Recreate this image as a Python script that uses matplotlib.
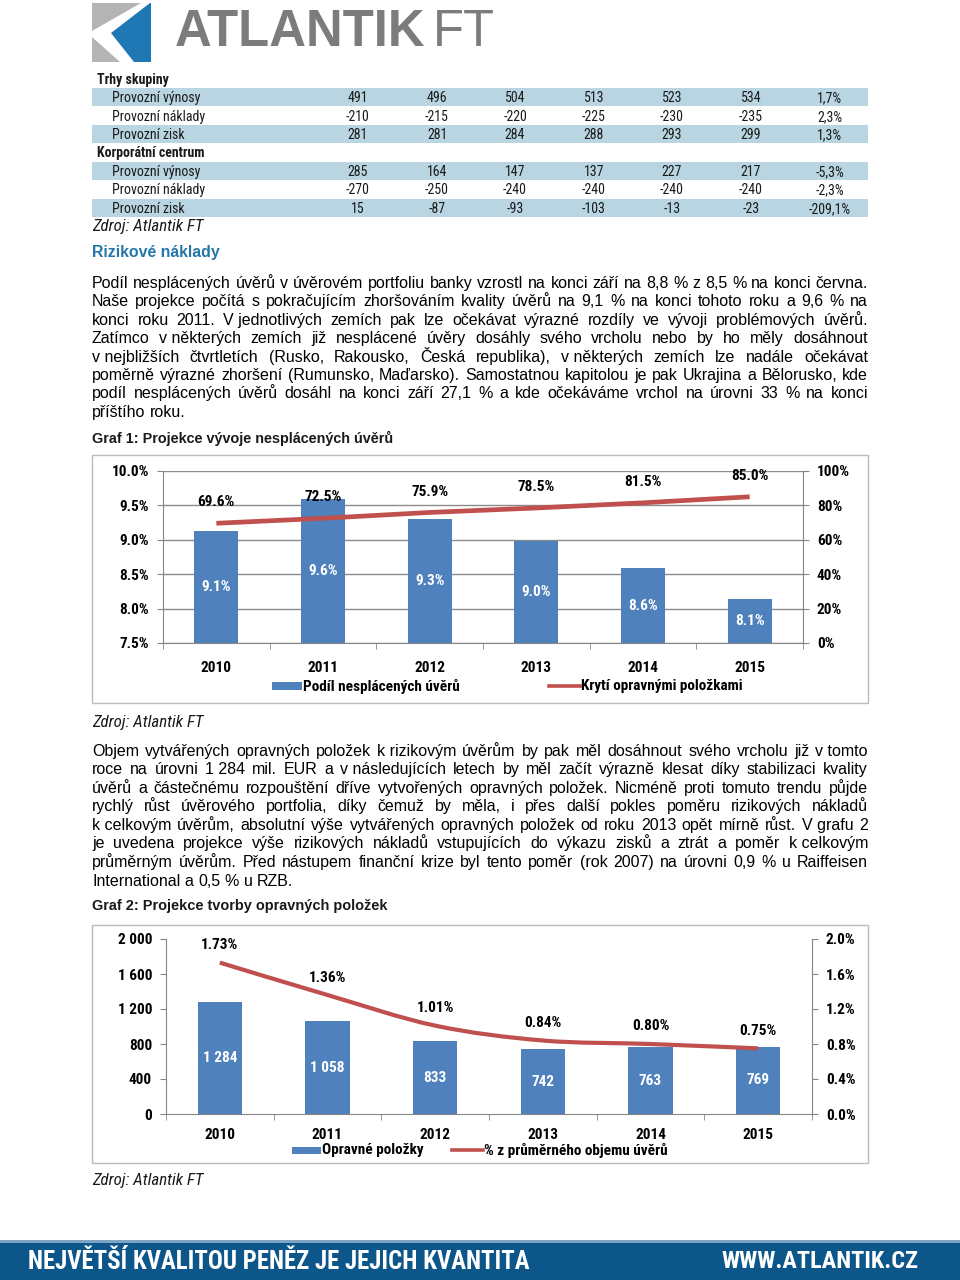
import matplotlib
matplotlib.use('Agg')
import matplotlib.pyplot as plt
from matplotlib import font_manager
from matplotlib.patches import Rectangle, Polygon, PathPatch
from matplotlib.lines import Line2D
from matplotlib.path import Path
import numpy as np

# ---------------- data ----------------
years = ['2010', '2011', '2012', '2013', '2014', '2015']
npl_share = [9.13, 9.60, 9.30, 8.98, 8.59, 8.14]        # % (left axis, graf 1)
coverage = [69.6, 72.5, 75.9, 78.5, 81.5, 85.0]          # % (right axis, graf 1)
provisions = [1284, 1058, 833, 742, 763, 769]            # mil. EUR (graf 2)
provisions_pct = [1.73, 1.36, 1.01, 0.84, 0.80, 0.75]    # % (graf 2)

row_labels = ['Provozní výnosy', 'Provozní náklady', 'Provozní zisk']
markets_vals = [[491, 496, 504, 513, 523, 534],
                [-210, -215, -220, -225, -230, -235],
                [281, 281, 284, 288, 293, 299]]
markets_growth = ['1,7%', '2,3%', '1,3%']
corp_vals = [[285, 164, 147, 137, 227, 217],
             [-270, -250, -240, -240, -240, -240],
             [15, -87, -93, -103, -13, -23]]
corp_growth = ['-5,3%', '-2,3%', '-209,1%']

para1 = [
    "Podíl nesplácených úvěrů v úvěrovém portfoliu banky vzrostl na konci září na 8,8 % z 8,5 % na konci června.",
    "Naše projekce počítá s pokračujícím zhoršováním kvality úvěrů na 9,1 % na konci tohoto roku a 9,6 % na",
    "konci roku 2011. V\u00a0jednotlivých zemích pak lze očekávat výrazné rozdíly ve vývoji problémových úvěrů.",
    "Zatímco v\u00a0některých zemích již nesplácené úvěry dosáhly svého vrcholu nebo by ho měly dosáhnout",
    "v\u00a0nejbližších čtvrtletích (Rusko, Rakousko, Česká republika), v\u00a0některých zemích lze nadále očekávat",
    "poměrně výrazné zhoršení (Rumunsko, Maďarsko). Samostatnou kapitolou je pak Ukrajina a Bělorusko, kde",
    "podíl nesplácených úvěrů dosáhl na konci září 27,1 % a kde očekáváme vrchol na úrovni 33 % na konci",
    "příštího roku.",
]
para2 = [
    "Objem vytvářených opravných položek k\u00a0rizikovým úvěrům by pak měl dosáhnout svého vrcholu již v\u00a0tomto",
    "roce na úrovni 1\u00a0284 mil. EUR a v\u00a0následujících letech by měl začít výrazně klesat díky stabilizaci kvality",
    "úvěrů a částečnému rozpouštění dříve vytvořených opravných položek. Nicméně proti tomuto trendu půjde",
    "rychlý růst úvěrového portfolia, díky čemuž by měla, i přes další pokles poměru rizikových nákladů",
    "k\u00a0celkovým úvěrům, absolutní výše vytvářených opravných položek od roku 2013 opět mírně růst. V\u00a0grafu 2",
    "je uvedena projekce výše rizikových nákladů vstupujících do výkazu zisků a ztrát a poměr k\u00a0celkovým",
    "průměrným úvěrům. Před nástupem finanční krize byl tento poměr (rok 2007) na úrovni 0,9 % u Raiffeisen",
    "International a 0,5 % u RZB.",
]

# ---------------- fonts ----------------
names = {f.name for f in font_manager.fontManager.ttflist}
def pick(*c):
    for n in c:
        if n in names:
            return n
    return 'DejaVu Sans'
REG = pick('Liberation Sans', 'Arial', 'Noto Sans')
NAR = pick('Liberation Sans Narrow', 'Arial Narrow', 'Roboto Condensed', REG)
plt.rcParams['font.family'] = [NAR, REG, 'DejaVu Sans']

W, H = 960, 1280
fig = plt.figure(figsize=(9.6, 12.8), dpi=100)
fig.patch.set_facecolor('white')
bg = fig.add_axes([0, 0, 1, 1])
bg.set_xlim(0, W)
bg.set_ylim(H, 0)
bg.axis('off')
renderer = fig.canvas.get_renderer()

BLUE = '#4f81bd'
RED = '#c0504d'
GREY = '#868686'
TXT = '#1a1a1a'


def width_of(s, **kw):
    t = bg.text(0, 0, s, **kw)
    w = t.get_window_extent(renderer).width
    t.remove()
    return w


def fit_text(x0, x1, y, s, size0=10, **kw):
    t = bg.text(x0, y, s, fontsize=size0, va='center', ha='left', **kw)
    w = t.get_window_extent(renderer).width
    t.set_fontsize(size0 * (x1 - x0) / w)
    return t


def btext(x, y, s, size, **kw):
    """text whose visual middle (cap height) is at y, placed on a baseline"""
    base = y + 0.36 * size * 100 / 72
    return bg.text(x, base, s, fontsize=size, va='baseline', **kw)


def paragraph(lines, y0, dy, x0=92, x1=868, size=10.5, **kw):
    for i, line in enumerate(lines):
        words = line.split(' ')
        ws = [width_of(w, fontsize=size, **kw) for w in words]
        last = (i == len(lines) - 1)
        if last or len(words) < 2:
            gap = width_of('a a', fontsize=size, **kw) - width_of('aa', fontsize=size, **kw)
        else:
            gap = (x1 - x0 - sum(ws)) / (len(words) - 1)
        x = x0
        y = y0 + i * dy
        for w, wd in zip(words, ws):
            btext(x, y, w, size, ha='left', **kw)
            x += wd + gap


# ---------------- logo ----------------
bg.add_patch(Rectangle((92, 3), 59, 59, color='#b4b4b4', lw=0))
bg.add_patch(Polygon([(141, 3), (151, 3), (151, 62), (120, 62), (92, 37), (92, 31)],
                     closed=True, color='white', lw=0))
bg.add_patch(Polygon([(150, 3), (151, 3), (151, 62), (134, 62), (111, 33)],
                     closed=True, color='#1f78b4', lw=0))
tA = fit_text(175, 425, 32, 'ATLANTIK', size0=30, family=REG, fontweight='bold', color='#7c7c7c')
bg.text(433, 32, 'FT', fontsize=tA.get_fontsize() * 1.0, family=REG, fontweight='normal',
        va='center', ha='left', color='#7c7c7c')

# ---------------- table ----------------
col_x = [358, 437, 515, 594, 672, 751]
growth_x = 830
TS = 10
btext(97, 79, 'Trhy skupiny', TS, family=NAR, fontweight='bold', color=TXT)
btext(97, 152, 'Korporátní centrum', TS, family=NAR, fontweight='bold', color=TXT)
for ys, vals, growth in [((97, 116, 134), markets_vals, markets_growth),
                         ((171, 189, 208), corp_vals, corp_growth)]:
    for r, y in enumerate(ys):
        if r != 1:
            bg.add_patch(Rectangle((92, y - 9.3), 776, 18.6, color='#b8d5e1', lw=0))
        btext(112, y, row_labels[r], TS, family=NAR, color=TXT)
        for c, v in enumerate(vals[r]):
            btext(col_x[c], y, str(v), TS, family=NAR, ha='center', color=TXT)
        btext(growth_x, y, growth[r], TS, family=NAR, ha='center', color=TXT)

fit_text(92, 203, 226, 'Zdroj: Atlantik FT', size0=10, family=NAR, style='italic', color=TXT)
fit_text(92, 221, 253, 'Rizikové náklady', size0=11, family=REG, fontweight='bold', color='#2477a8')

# ---------------- paragraphs ----------------
w0 = sum(width_of(w, fontsize=10, family=REG) for w in para1[0].split(' '))
gap0 = width_of('a a', fontsize=10, family=REG) - width_of('aa', fontsize=10, family=REG)
nat = w0 + gap0 * (len(para1[0].split(' ')) - 1)
psize = 10 * 772 / nat
paragraph(para1, 282, 18.45, size=psize, family=REG, color='black')

fit_text(92, 395, 438, 'Graf 1: Projekce vývoje nesplácených úvěrů', size0=10, family=REG,
         fontweight='bold', color=TXT)
fit_text(92, 203, 722, 'Zdroj: Atlantik FT', size0=10, family=NAR, style='italic', color=TXT)
paragraph(para2, 750, 18.55, size=psize, family=REG, color='black')
fit_text(92, 386, 906, 'Graf 2: Projekce tvorby opravných položek', size0=10, family=REG,
         fontweight='bold', color=TXT)
fit_text(92, 203, 1181, 'Zdroj: Atlantik FT', size0=10, family=NAR, style='italic', color=TXT)

# chart boxes
bg.add_patch(Rectangle((92, 455), 776, 248, fill=False, ec='#bcbcbc', lw=1))
bg.add_patch(Rectangle((92, 925), 776, 238, fill=False, ec='#bcbcbc', lw=1))

# ---------------- footer ----------------
bg.add_patch(Rectangle((0, 1240), W, 3, color='#7fa4c4', lw=0))
bg.add_patch(Rectangle((0, 1242.5), W, 38, color='#0c568a', lw=0))
fit_text(28, 530, 1262, 'NEJVĚTŠÍ KVALITOU PENĚZ JE JEJICH KVANTITA', size0=16, family=NAR,
         fontweight='bold', color='white')
fit_text(721, 919, 1262, 'WWW.ATLANTIK.CZ', size0=16, family=NAR, fontweight='bold', color='white')

LBL = dict(family=NAR, fontweight='bold', fontsize=11)


def style_axes(ax, axr):
    ax.set_facecolor('none')
    for s in ['top', 'right']:
        ax.spines[s].set_visible(False)
    for s in ['left', 'bottom']:
        ax.spines[s].set_color(GREY)
    for s in ['top', 'left', 'bottom']:
        axr.spines[s].set_visible(False)
    axr.spines['right'].set_color(GREY)
    ax.set_xlim(-0.5, 5.5)
    ax.set_xticks(np.arange(-0.5, 6, 1), minor=True)
    ax.tick_params(axis='x', which='minor', length=4, color=GREY, direction='out')
    ax.tick_params(axis='y', length=4, color=GREY, direction='out', pad=6)
    axr.tick_params(axis='y', length=4, color=GREY, direction='out', pad=6)


def smooth_path(xs, ys):
    verts = [(xs[0], ys[0])]
    codes = [Path.MOVETO]
    n = len(xs)
    for i in range(n - 1):
        p0 = (xs[max(i - 1, 0)], ys[max(i - 1, 0)])
        p1 = (xs[i], ys[i])
        p2 = (xs[i + 1], ys[i + 1])
        p3 = (xs[min(i + 2, n - 1)], ys[min(i + 2, n - 1)])
        c1 = (p1[0] + (p2[0] - p0[0]) / 6, p1[1] + (p2[1] - p0[1]) / 6)
        c2 = (p2[0] - (p3[0] - p1[0]) / 6, p2[1] - (p3[1] - p1[1]) / 6)
        verts += [c1, c2, p2]
        codes += [Path.CURVE4] * 3
    return Path(verts, codes)


# ---------------- Graf 1 ----------------
x = np.arange(len(years))
ax1 = fig.add_axes([163 / W, 1 - 643 / H, (803 - 163) / W, (643 - 471) / H])
ax1r = ax1.twinx()
style_axes(ax1, ax1r)
ymin1, ymax1 = 7.5, 10.0
ax1.set_ylim(ymin1, ymax1)
ax1.set_axisbelow(True)
ax1.yaxis.grid(True, color='#8c8c8c', lw=1)
ax1.bar(x, npl_share, width=0.41, color=BLUE, zorder=2)
t1 = np.arange(7.5, 10.01, 0.5)
ax1.set_yticks(t1, labels=[f'{v:.1f}%' for v in t1], **LBL)
ax1.set_xticks(x, labels=years, **LBL)
ax1.tick_params(axis='x', which='major', length=0, pad=13)
for i, v in enumerate(npl_share):
    ax1.text(i, (ymin1 + v) / 2, f'{v:.1f}%', ha='center', va='center', color='white', **LBL)
ax1r.set_ylim(0, 100)
t1r = np.arange(0, 101, 20)
ax1r.set_yticks(t1r, labels=[f'{v}%' for v in t1r], **LBL)
ax1r.plot(x, coverage, color=RED, lw=3.4, solid_capstyle='butt')
for i, v in enumerate(coverage):
    ax1r.annotate(f'{v:.1f}%', (i, v), xytext=(0, 15), textcoords='offset points',
                  ha='center', va='center', color='black', **LBL)

bg.add_patch(Rectangle((272, 682), 30, 7.5, color=BLUE, lw=0))
bg.text(303, 686, 'Podíl nesplácených úvěrů', va='center', ha='left', color='black', **LBL)
bg.add_line(Line2D([549, 580], [686, 686], color=RED, lw=2.6))
bg.text(581, 686, 'Krytí opravnými položkami', va='center', ha='left', color='black', **LBL)

# ---------------- Graf 2 ----------------
ax2 = fig.add_axes([166 / W, 1 - 1114 / H, (812 - 166) / W, (1114 - 939) / H])
ax2r = ax2.twinx()
style_axes(ax2, ax2r)
ax2.set_ylim(0, 2000)
ax2.bar(x, provisions, width=0.41, color=BLUE, zorder=2)
t2 = np.arange(0, 2001, 400)
ax2.set_yticks(t2, labels=[f'{v:,}'.replace(',', ' ') for v in t2], **LBL)
ax2.set_xticks(x, labels=years, **LBL)
ax2.tick_params(axis='x', which='major', length=0, pad=10)
for i, v in enumerate(provisions):
    ax2.text(i, v / 2, f'{v:,}'.replace(',', ' '), ha='center', va='center', color='white', **LBL)
ax2r.set_ylim(0, 2.0)
t2r = np.arange(0, 2.01, 0.4)
ax2r.set_yticks(t2r, labels=[f'{v:.1f}%' for v in t2r], **LBL)
ax2r.add_patch(PathPatch(smooth_path(list(x), provisions_pct), fill=False, ec=RED, lw=3.0,
                         capstyle='butt'))
for i, v in enumerate(provisions_pct):
    ax2r.annotate(f'{v:.2f}%', (i, v), xytext=(0, 12.6), textcoords='offset points',
                  ha='center', va='center', color='black', **LBL)

bg.add_patch(Rectangle((292, 1147), 29, 7, color=BLUE, lw=0))
bg.text(322, 1150, 'Opravné položky', va='center', ha='left', color='black', **LBL)
bg.add_line(Line2D([452, 483], [1150, 1150], color=RED, lw=2.6))
bg.text(484, 1150, '% z průměrného objemu úvěrů', va='center', ha='left', color='black', **LBL)

fig.savefig('out.png', dpi=100, facecolor='white')
